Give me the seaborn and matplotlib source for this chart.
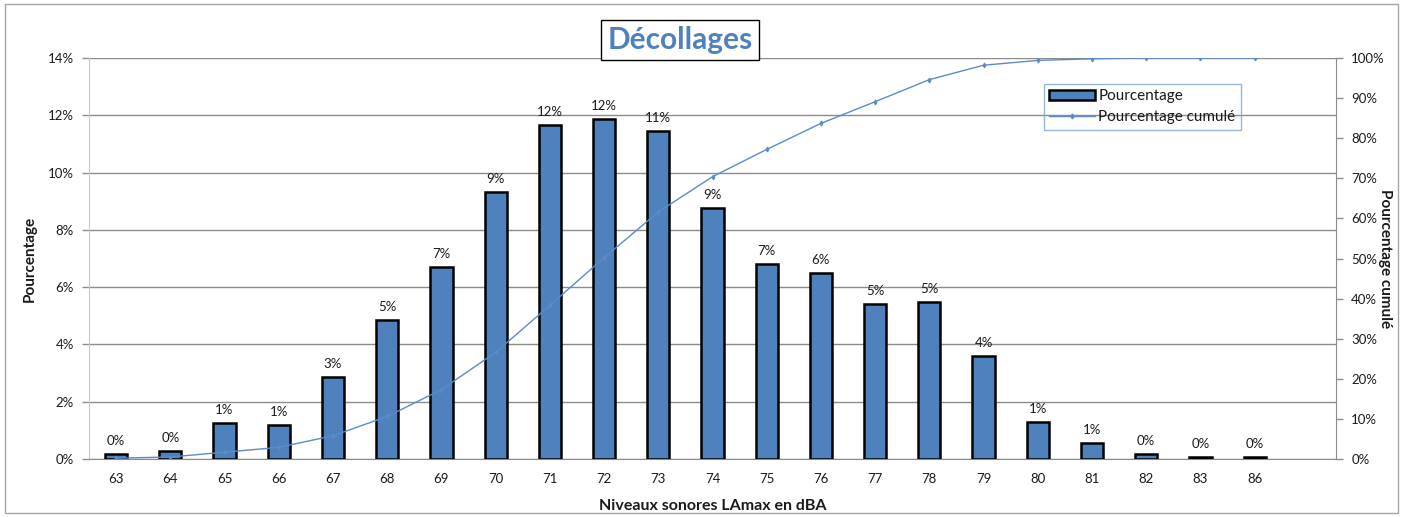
import matplotlib
matplotlib.use("Agg")
import matplotlib.pyplot as plt
import matplotlib.patches as mpatches
from matplotlib.lines import Line2D
from matplotlib.ticker import FuncFormatter
import numpy as np
import pandas as pd
import seaborn as sns

# ---- data ----
levels = ["63", "64", "65", "66", "67", "68", "69", "70", "71", "72", "73",
          "74", "75", "76", "77", "78", "79", "80", "81", "82", "83", "86"]
pourcentage = [0.17, 0.29, 1.25, 1.19, 2.86, 4.85, 6.70, 9.32, 11.66, 11.87, 11.45,
               8.76, 6.81, 6.49, 5.41, 5.48, 3.60, 1.30, 0.57, 0.17, 0.06, 0.06]
bar_labels = ["0%", "0%", "1%", "1%", "3%", "5%", "7%", "9%", "12%", "12%", "11%",
              "9%", "7%", "6%", "5%", "5%", "4%", "1%", "1%", "0%", "0%", "0%"]
cumule = [0.2, 0.5, 1.7, 2.9, 5.8, 10.6, 17.3, 26.6, 38.3, 50.2, 61.6,
          70.4, 77.2, 83.7, 89.1, 94.6, 98.2, 99.4, 99.8, 100.0, 100.0, 100.0]
left_ticks = [0, 2, 4, 6, 8, 10, 12, 14]
right_ticks = [0, 10, 20, 30, 40, 50, 60, 70, 80, 90, 100]

title = "Décollages"
xlabel = "Niveaux sonores LAmax en dBA"
ylabel_left = "Pourcentage"
ylabel_right = "Pourcentage cumulé"
legend_labels = ["Pourcentage", "Pourcentage cumulé"]

df = pd.DataFrame({"niveau": levels, "pct": pourcentage, "cum": cumule})

# ---- style ----
sns.set_style("white")
plt.rcParams["font.family"] = ["Lato", "DejaVu Sans"]
BLUE = "#4F81BD"
LINE = "#5B8BC9"
GRID = "#8C8C8C"
TXT = "#1a1a1a"

W, H = 1403, 517
fig = plt.figure(figsize=(W / 100, H / 100), dpi=100)
L, R, T, B = 89, 1336, 58, 459
ax = fig.add_axes([L / W, 1 - B / H, (R - L) / W, (B - T) / H])

# figure border
fig.patches.append(mpatches.Rectangle((5 / W, 4 / H), 1393 / W, 509 / H,
                                      transform=fig.transFigure, fill=False,
                                      edgecolor="#A6A6A6", linewidth=1.0))

sns.barplot(data=df, x="niveau", y="pct", order=levels, ax=ax, color=BLUE,
            width=0.41, edgecolor="black", linewidth=1.8, saturation=1, zorder=3)
ax.bar_label(ax.containers[0], labels=bar_labels, padding=5, fontsize=9.5, color=TXT)

n_slots = len(levels) + 1
ax.set_xlim(-0.5, n_slots - 0.5)
ax.set_ylim(0, 14)
ax.set_yticks(left_ticks)
ax.yaxis.set_major_formatter(FuncFormatter(lambda v, p: f"{v:.0f}%"))
ax.grid(axis="y", color=GRID, linewidth=1.0, zorder=0)
ax.set_axisbelow(True)
ax.set_xticks(range(len(levels)))
ax.set_xticklabels(levels)
ax.set_xticks(np.arange(-0.5, n_slots, 1.0), minor=True)
ax.tick_params(axis="x", which="major", length=0, pad=10, labelsize=9.5, labelcolor=TXT)
ax.tick_params(axis="x", which="minor", length=5, color=GRID, width=1)
ax.tick_params(axis="y", length=5, color=GRID, width=1, labelsize=9.5, labelcolor=TXT, pad=6, left=True)
ax.set_xlabel(xlabel, fontsize=11.5, fontweight="bold", color=TXT, labelpad=10)
ax.set_ylabel(ylabel_left, fontsize=11, fontweight="bold", color=TXT)
ax.yaxis.set_label_coords((37 - L) / (R - L), 0.5)
for s in ["top", "right"]:
    ax.spines[s].set_visible(False)
ax.spines["bottom"].set_color(GRID)
ax.spines["left"].set_color("#C8C8C8")
ax.spines["left"].set_linestyle((0, (1, 1)))

# ---- cumulative line ----
ax2 = ax.twinx()
sns.pointplot(data=df, x="niveau", y="cum", order=levels, ax=ax2, color=LINE,
              markers="d", markersize=2.5, linewidth=1.0, errorbar=None, zorder=4)
ax2.set_xlim(-0.5, n_slots - 0.5)
ax2.set_ylim(0, 100)
ax2.set_yticks(right_ticks)
ax2.yaxis.set_major_formatter(FuncFormatter(lambda v, p: f"{v:.0f}%"))
ax2.tick_params(axis="y", length=5, color=GRID, width=1, labelsize=9.5, labelcolor=TXT, pad=6, right=True)
ax2.set_ylabel(ylabel_right, fontsize=11, fontweight="bold", color=TXT, rotation=-90, va="center")
ax2.yaxis.set_label_coords((1385 - L) / (R - L), 0.5)
ax2.set_xlabel("")
ax2.grid(False)
for s in ["top", "left", "bottom"]:
    ax2.spines[s].set_visible(False)
ax2.spines["right"].set_color(GRID)

# ---- title ----
fig.text(680 / W, 1 - 40 / H, title, ha="center", va="center", fontsize=21.5,
         fontweight="bold", color=BLUE,
         bbox=dict(boxstyle="square,pad=0.2", facecolor="white", edgecolor="black", linewidth=1.0),
         zorder=10)

# ---- legend ----
handles = [mpatches.Patch(facecolor=BLUE, edgecolor="black", linewidth=1.8),
           Line2D([0], [0], color=LINE, linewidth=1.0, marker="d", markersize=2.5)]
leg = ax2.legend(handles, legend_labels, loc="upper left",
                 bbox_to_anchor=(1044 / W, 1 - 84 / H), bbox_transform=fig.transFigure,
                 frameon=True, fancybox=False, fontsize=11, handlelength=3.0,
                 handletextpad=0.2, borderaxespad=0, borderpad=0.35, labelspacing=0.45)
leg.get_frame().set_facecolor("none")
leg.get_frame().set_edgecolor("#7FA2D0")
leg.get_frame().set_linewidth(1.0)
for t in leg.get_texts():
    t.set_color(TXT)

fig.savefig("out.png", dpi=100)
